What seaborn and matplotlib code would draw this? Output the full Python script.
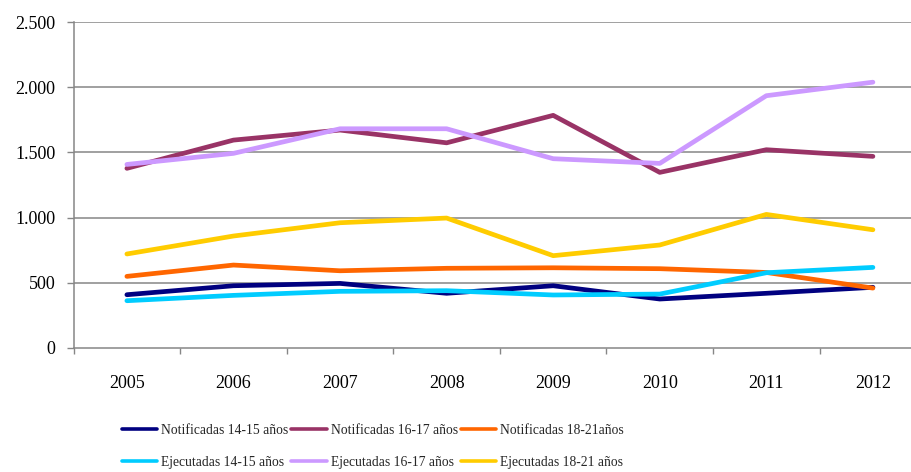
import matplotlib
matplotlib.use("Agg")
import matplotlib.pyplot as plt
import matplotlib.ticker as mticker
import seaborn as sns
import pandas as pd

years = ["2005", "2006", "2007", "2008", "2009", "2010", "2011", "2012"]
series_names = [
    "Notificadas 14-15 años",
    "Notificadas 16-17 años",
    "Notificadas 18-21años",
    "Ejecutadas 14-15 años",
    "Ejecutadas 16-17 años",
    "Ejecutadas 18-21 años",
]
notif_14_15 = [407, 476, 494, 418, 476, 374, 418, 464]
notif_16_17 = [1378, 1595, 1672, 1574, 1785, 1347, 1521, 1470]
notif_18_21 = [548, 635, 591, 610, 614, 607, 578, 458]
ejec_14_15 = [361, 402, 433, 438, 405, 412, 576, 617]
ejec_16_17 = [1408, 1493, 1682, 1682, 1452, 1416, 1936, 2040]
ejec_18_21 = [720, 858, 960, 996, 707, 789, 1024, 906]
colors = ["#000080", "#993366", "#FF6600", "#00CCFF", "#CC99FF", "#FFCC00"]
y_ticks = [0, 500, 1000, 1500, 2000, 2500]

all_values = [notif_14_15, notif_16_17, notif_18_21, ejec_14_15, ejec_16_17, ejec_18_21]
rows = []
for name, vals in zip(series_names, all_values):
    for i, (yr, v) in enumerate(zip(years, vals)):
        rows.append({"idx": i, "year": yr, "value": v, "serie": name})
df = pd.DataFrame(rows)

sns.set_theme(style="white")
plt.rcParams["font.family"] = ["Liberation Serif", "DejaVu Serif"]

fig = plt.figure(figsize=(9.12, 4.72), dpi=100)
ax = fig.add_axes([73.6 / 912, 1 - 347.7 / 472, 852.6 / 912, 325.4 / 472])

sns.lineplot(data=df, x="idx", y="value", hue="serie", hue_order=series_names,
             palette=colors, linewidth=3.4, ax=ax, legend=False, sort=False,
             solid_capstyle="round")

grid_c = "#868686"
ax.set_xlim(-0.5, len(years) - 0.5)
ax.set_ylim(0, 2500)
ax.set_yticks(y_ticks)
ax.yaxis.set_major_formatter(mticker.FuncFormatter(lambda v, p: f"{int(v):,}".replace(",", ".")))
for yv in y_ticks[1:]:
    ax.axhline(yv, color=grid_c, lw=1.1, zorder=0)

ax.set_xticks([i - 0.5 for i in range(len(years) + 1)])
ax.set_xticklabels([])
ax.set_xticks(range(len(years)), minor=True)
ax.set_xticklabels(years, minor=True)
ax.tick_params(axis="x", which="major", direction="out", length=4, width=1, color=grid_c, bottom=True)
ax.tick_params(axis="x", which="minor", length=0, pad=19.5, labelsize=13, labelcolor="black")
ax.tick_params(axis="y", which="major", direction="out", length=5, width=1, color=grid_c,
               left=True, pad=8, labelsize=13, labelcolor="black")
ax.set_xlabel("")
ax.set_ylabel("")

for s in ["top", "right"]:
    ax.spines[s].set_visible(False)
for s in ["left", "bottom"]:
    ax.spines[s].set_color(grid_c)
    ax.spines[s].set_linewidth(1.1)

order = [0, 3, 1, 4, 2, 5]
handles = [plt.Line2D([], [], color=colors[i], lw=2.6) for i in order]
labels = [series_names[i] for i in order]
fig.legend(handles, labels, ncol=3, loc="upper left",
           bbox_to_anchor=(122 / 912, 1 - 423.5 / 472), frameon=False,
           fontsize=9.8, handlelength=2.6, handletextpad=0.3, columnspacing=0.2,
           labelspacing=1.45, borderpad=0, borderaxespad=0)

fig.savefig("out.png", dpi=100)
